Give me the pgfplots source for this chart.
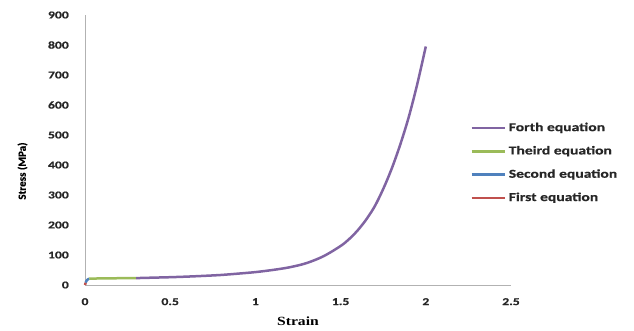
\documentclass[border=0pt]{standalone}
\usepackage{pgfplots}
\pgfplotsset{compat=1.18}
\usepackage{fontspec}
\setmainfont{Carlito}[FakeStretch=1.3, BoldFont={Carlito Bold}, BoldFeatures={FakeBold=0.6}]
\newfontfamily\ylabfont{Carlito}[BoldFont={Carlito Bold}, BoldFeatures={FakeBold=0.6}]
\newfontfamily\serifbf{Liberation Serif}[FakeStretch=1.25, BoldFont={Liberation Serif Bold}]
\definecolor{cFirst}{HTML}{C0504D}
\definecolor{cSecond}{HTML}{4F81BD}
\definecolor{cThird}{HTML}{9BBB59}
\definecolor{cForth}{HTML}{8064A2}
\begin{document}
\begin{tikzpicture}
\useasboundingbox (-85pt,-45pt) rectangle (549pt,285pt);
\begin{axis}[
  at={(0pt,0pt)}, anchor=origin,
  scale only axis,
  width=426pt, height=270pt,
  xmin=0, xmax=2.5, ymin=0, ymax=900,
  axis x line*=bottom, axis y line*=left,
  axis line style={draw=black!30, line width=0.8pt, -},
  xtick={0,0.5,1,1.5,2,2.5},
  xticklabels={0,0.5,1,1.5,2,2.5},
  ytick={0,100,...,900},
  major tick length=0pt,
  /pgf/number format/assume math mode=true,
  tick label style={font=\bfseries\fontsize{10.5}{12}\selectfont, text=black!85, inner sep=0pt},
  yticklabel style={anchor=east, xshift=-16pt},
  xticklabel style={anchor=north, yshift=-13pt},
  xlabel={\serifbf\bfseries Strain},
  xlabel style={at={(axis description cs:0.5,-0.133)}, anchor=center, font=\fontsize{12.5}{14}\selectfont},
  ylabel={\ylabfont\bfseries Stress (MPa)},
  ylabel style={at={(axis description cs:-0.1467,0.422)}, anchor=center, rotate=0, font=\fontsize{11}{13}\selectfont},
  legend style={draw=none, fill=none, at={(axis description cs:0.904,0.604)}, anchor=north west,
    font=\bfseries\fontsize{12}{14}\selectfont, row sep=11.3pt, inner sep=0pt,
    nodes={inner sep=0pt, text height=9pt, text depth=3pt, text=black!85}},
  legend cell align=left,
  legend image code/.code={\draw[#1] (0pt,0pt) -- (33pt,0pt);},
  reverse legend,
  clip=false,
]
\addplot[cFirst, line width=2.5pt] coordinates {(0,0) (0.002,4) (0.004,8)};
\addlegendentry{\hspace{3pt}First equation}
\addplot[cSecond, line width=2.5pt] coordinates {(0.004,8) (0.008,13) (0.013,17) (0.019,19.5) (0.025,21)};
\addlegendentry{\hspace{3pt}Second equation}
\addplot[cThird, line width=2.5pt] coordinates {(0.025,21) (0.05,21.5) (0.1,22) (0.15,22.3) (0.2,22.6) (0.25,22.8) (0.3,23)};
\addlegendentry{\hspace{3pt}Theird equation}
\addplot[cForth, line width=2.5pt, smooth] coordinates {
(0.3,23) (0.4,24.5) (0.5,26) (0.6,28) (0.7,30.5) (0.8,33.5) (0.9,38) (1.0,43) (1.1,50)
(1.2,59) (1.3,73) (1.4,96) (1.5,130) (1.55,153) (1.6,182) (1.65,218) (1.7,262) (1.75,320) (1.8,388) (1.85,468) (1.9,560) (1.95,670) (2.0,795)};
\addlegendentry{\hspace{3pt}Forth equation}
\end{axis}
\end{tikzpicture}
\end{document}
